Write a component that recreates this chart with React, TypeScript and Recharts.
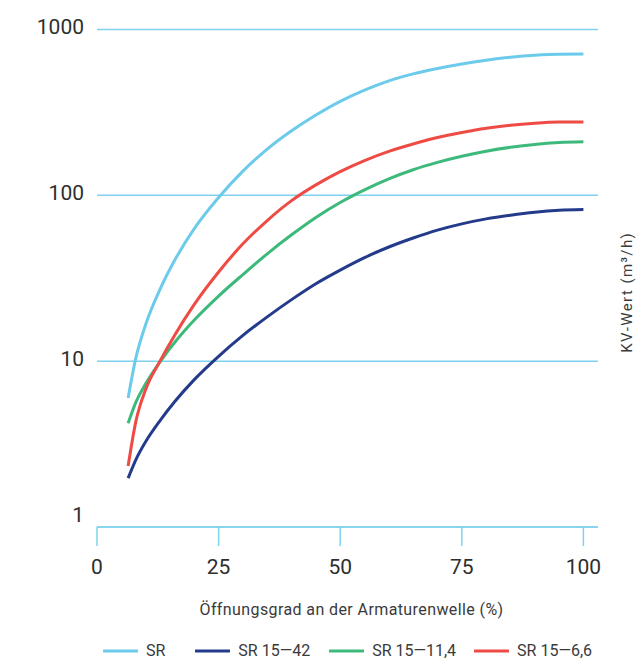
import React from 'react';
import { LineChart, Line, XAxis, YAxis, CartesianGrid, Legend } from 'recharts';

// Öffnungsgrad (%)
const OPENING = [6.4, 8, 10, 13, 16, 20, 25, 30, 35, 40, 45, 50, 55, 60, 65, 70, 75, 80, 85, 90, 95, 100];
// KV-Wert (m³/h) per series
const SR = [6.0, 10.5, 16.6, 27.3, 40.7, 63, 97, 140, 190, 245, 305, 369, 431, 490, 540, 582, 620, 653, 680, 700, 710, 711];
const SR_15_42 = [1.97, 2.55, 3.27, 4.4, 5.71, 7.74, 10.7, 14.3, 18.5, 23.5, 29.3, 35.4, 42.1, 48.8, 55.3, 61.7, 67.3, 72.1, 75.9, 79.1, 81.3, 82.2];
const SR_15_11_4 = [4.22, 5.66, 7.3, 9.95, 13.0, 17.7, 24.7, 33.3, 44.4, 57.8, 73.6, 90.6, 108, 125.7, 142.7, 158, 172, 184.5, 194.8, 202.8, 208, 210.2];
const SR_15_6_6 = [2.33, 4.35, 6.75, 10.07, 14.4, 22.0, 34.5, 51, 70.5, 92.9, 115.6, 139, 162, 184, 204, 223, 239, 253.5, 264.5, 272, 276.4, 277];

const SERIES_NAMES = ['SR', 'SR 15—42', 'SR 15—11,4', 'SR 15—6,6'];
const SERIES_KEYS = ['sr', 'sr1542', 'sr15114', 'sr1566'];
const SERIES_VALUES = [SR, SR_15_42, SR_15_11_4, SR_15_6_6];
const SERIES_COLORS = ['#6ccbeb', '#243a8b', '#3dba7b', '#ee4b44'];

const X_TICKS = [0, 25, 50, 75, 100];
const Y_TICKS = [1, 10, 100, 1000];
const X_LABEL = 'Öffnungsgrad an der Armaturenwelle (%)';
const Y_LABEL = 'KV-Wert (m³/h)';

const GRID = '#7fd2ee';
const TEXT = '#2e2e2e';
const FONT = 'Roboto, "Noto Sans", sans-serif';

const data = OPENING.map((x, i) => {
  const row: Record<string, number> = { x };
  SERIES_KEYS.forEach((k, s) => {
    row[k] = SERIES_VALUES[s][i];
  });
  return row;
});

const YTick = (props: any) => {
  const { x, y, payload } = props;
  const shift = payload.value === 1 ? -12 : -2.5;
  return (
    <text x={x} y={y + shift} dy="0.355em" textAnchor="end" fill={TEXT} fontSize={21} fontFamily={FONT}>
      {payload.value}
    </text>
  );
};

const LEGEND_GAPS = [30, 19, 18, 0];

const LegendContent = () => (
  <div style={{ display: 'flex', alignItems: 'center', height: 40, paddingLeft: 103, fontFamily: FONT }}>
    {SERIES_NAMES.map((name, i) => (
      <div key={name} style={{ display: 'flex', alignItems: 'center', marginRight: LEGEND_GAPS[i] }}>
        <svg width={35} height={4} style={{ display: 'block' }}>
          <line x1={1} y1={2} x2={34} y2={2} stroke={SERIES_COLORS[i]} strokeWidth={3} strokeLinecap="round" />
        </svg>
        <span style={{ marginLeft: 8, fontSize: 16, color: '#3a3a3a', lineHeight: '18px' }}>{name}</span>
      </div>
    ))}
  </div>
);

export default function App() {
  return (
    <div style={{ position: 'absolute', left: 0, top: 0, width: 636, height: 661, background: '#fff' }}>
      <LineChart width={636} height={661} data={data} margin={{ top: 29.5, right: 0, bottom: 0, left: 0 }}>
        <CartesianGrid yAxisId="left" vertical={false} stroke={GRID} strokeWidth={1.5} />
        <XAxis
          dataKey="x"
          type="number"
          domain={[0, 103]}
          ticks={X_TICKS}
          allowDataOverflow
          height={104}
          stroke={GRID}
          strokeWidth={1.5}
          tickSize={19}
          tickMargin={13}
          tick={{ fill: TEXT, fontSize: 21, fontFamily: FONT }}
          label={{
            value: X_LABEL,
            position: 'insideBottom',
            offset: 16,
            dx: 4,
            fill: '#3a3a3a',
            fontSize: 16,
            fontFamily: FONT,
            letterSpacing: 0.4,
          }}
        />
        <YAxis
          yAxisId="left"
          scale="log"
          domain={[1, 1000]}
          ticks={Y_TICKS}
          allowDataOverflow
          width={97}
          axisLine={false}
          tickLine={false}
          tickSize={0}
          tickMargin={13}
          tick={<YTick />}
        />
        <YAxis
          yAxisId="right"
          orientation="right"
          scale="log"
          domain={[1, 1000]}
          width={38}
          axisLine={false}
          tickLine={false}
          tick={false}
          label={{
            value: Y_LABEL,
            angle: -90,
            position: 'center',
            dx: 10,
            dy: 14,
            fill: '#3a3a3a',
            fontSize: 15,
            fontFamily: FONT,
            letterSpacing: 1.4,
          }}
        />
        <Legend verticalAlign="bottom" height={30} wrapperStyle={{ left: 0, width: 636 }} content={<LegendContent />} />
        {SERIES_KEYS.map((k, s) => (
          <Line
            key={k}
            yAxisId="left"
            type="monotone"
            dataKey={k}
            name={SERIES_NAMES[s]}
            stroke={SERIES_COLORS[s]}
            strokeWidth={3}
            dot={false}
            activeDot={false}
            isAnimationActive={false}
          />
        ))}
      </LineChart>
    </div>
  );
}
